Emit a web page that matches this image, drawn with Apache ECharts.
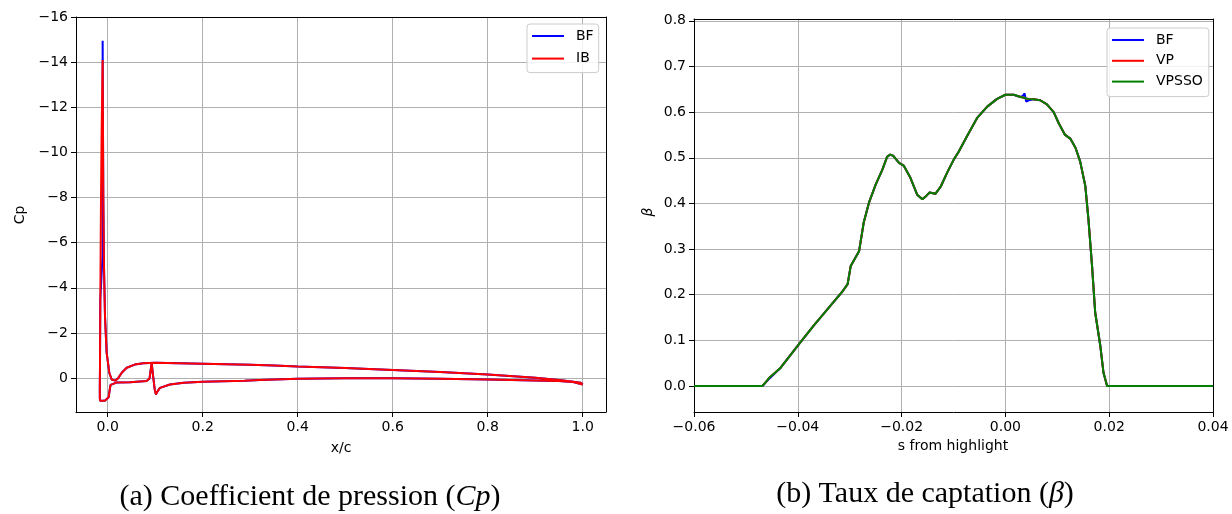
<!DOCTYPE html>
<html><head><meta charset="utf-8">
<script src="https://cdn.jsdelivr.net/npm/echarts@6/dist/echarts.min.js"></script>
<style>html,body{margin:0;padding:0;background:#fff}#c{width:1232px;height:514px}</style>
</head><body><div id="c"></div>
<script>
// ---------- (a) Pressure coefficient Cp vs x/c ----------
// upper surface: trailing edge -> leading edge (right branch of the suction peak)
const cpUpperX = [1.0, 0.995, 0.98, 0.95, 0.9, 0.8, 0.7, 0.6, 0.5, 0.4, 0.35, 0.3, 0.2, 0.15, 0.1, 0.075, 0.057, 0.04, 0.03, 0.022, 0.016, 0.012, 0.0084, 0.0034, -0.0022, -0.0057, -0.0078, -0.0092, -0.0099];
const cpUpperY = [0.28, 0.2, 0.16, 0.08, -0.02, -0.16, -0.27, -0.36, -0.45, -0.52, -0.56, -0.59, -0.64, -0.66, -0.68, -0.66, -0.6, -0.46, -0.25, 0.0, 0.11, 0.13, 0.06, -0.24, -1.13, -2.76, -4.98, -7.94, -11.0];
// suction peak of each solver
const ibPeakX = [-0.0106];
const ibPeakY = [-14.09];
const bfPeakX = [-0.0106, -0.0106];
const bfPeakY = [-14.95, -5.5];
// upper part of the left branch (IB only visible)
const cpLeTopX = [-0.0113, -0.0127, -0.0141];
const cpLeTopY = [-13.13, -10.9, -7.94];
// left branch down to stagnation, then lower surface to trailing edge
const cpLowerX = [-0.0155, -0.0162, -0.0166, -0.0165, -0.016, -0.0127, -0.006, -0.002, 0.002, 0.004, 0.006, 0.0084, 0.02, 0.047, 0.082, 0.088, 0.0926, 0.095, 0.099, 0.1017, 0.106, 0.11, 0.131, 0.16, 0.2, 0.288, 0.29, 0.292, 0.32, 0.4, 0.5, 0.6, 0.7, 0.8, 0.9, 0.95, 0.98, 1.0];
const cpLowerY = [-3.5, -0.53, 0.5, 0.9, 1.0, 1.02, 1.0, 0.95, 0.85, 0.55, 0.3, 0.22, 0.19, 0.18, 0.13, 0.02, -0.68, -0.2, 0.5, 0.72, 0.55, 0.43, 0.28, 0.2, 0.16, 0.12, 0.19, 0.12, 0.08, 0.03, 0.01, 0.01, 0.03, 0.06, 0.1, 0.13, 0.17, 0.28];
const cpXTicks = [0, 0.2, 0.4, 0.6, 0.8, 1.0];
const cpYTicks = [-16, -14, -12, -10, -8, -6, -4, -2, 0];

// ---------- (b) Collection efficiency beta vs s ----------
const sHl = [-0.06, -0.0468, -0.0455, -0.0433, -0.0397, -0.0369, -0.0337, -0.0314, -0.0304, -0.0298, -0.0282, -0.0273, -0.0263, -0.025, -0.0237, -0.0228, -0.0222, -0.0216, -0.0205, -0.0196, -0.0183, -0.017, -0.016, -0.0152, -0.0146, -0.0135, -0.0125, -0.0112, -0.0099, -0.009, -0.0074, -0.0054, -0.0035, -0.0016, 0.0, 0.0016, 0.0029, 0.0034, 0.0037, 0.0040, 0.0045, 0.0054, 0.0067, 0.008, 0.0093, 0.0103, 0.0115, 0.0125, 0.0135, 0.0144, 0.0154, 0.016, 0.0167, 0.0173, 0.0183, 0.0189, 0.0196, 0.04];
const betaBF = [0, 0, 0.016, 0.040, 0.093, 0.133, 0.176, 0.207, 0.223, 0.263, 0.295, 0.358, 0.401, 0.441, 0.474, 0.502, 0.507, 0.504, 0.489, 0.483, 0.456, 0.419, 0.409, 0.417, 0.424, 0.421, 0.436, 0.468, 0.497, 0.513, 0.547, 0.588, 0.612, 0.629, 0.638, 0.638, 0.633, 0.636, 0.641, 0.623, 0.626, 0.628, 0.626, 0.617, 0.600, 0.575, 0.550, 0.542, 0.522, 0.492, 0.438, 0.365, 0.262, 0.161, 0.087, 0.029, 0.0, 0];
const betaVP = [0, 0, 0.018, 0.040, 0.093, 0.133, 0.176, 0.207, 0.223, 0.263, 0.295, 0.358, 0.401, 0.441, 0.474, 0.502, 0.507, 0.504, 0.489, 0.483, 0.456, 0.419, 0.409, 0.417, 0.424, 0.421, 0.436, 0.468, 0.497, 0.513, 0.547, 0.588, 0.612, 0.629, 0.638, 0.638, 0.633, 0.632, 0.631, 0.630, 0.629, 0.628, 0.626, 0.617, 0.600, 0.575, 0.550, 0.542, 0.522, 0.492, 0.438, 0.365, 0.262, 0.161, 0.087, 0.029, 0.0, 0];
const betaVPSSO = [0, 0, 0.018, 0.040, 0.093, 0.133, 0.176, 0.207, 0.223, 0.263, 0.295, 0.358, 0.401, 0.441, 0.474, 0.502, 0.507, 0.504, 0.489, 0.483, 0.456, 0.419, 0.409, 0.417, 0.424, 0.421, 0.436, 0.468, 0.497, 0.513, 0.547, 0.588, 0.612, 0.629, 0.638, 0.638, 0.633, 0.632, 0.631, 0.630, 0.629, 0.628, 0.626, 0.617, 0.600, 0.575, 0.550, 0.542, 0.522, 0.492, 0.438, 0.365, 0.262, 0.161, 0.087, 0.029, 0.0, 0];
const betaXTicks = [-0.06, -0.04, -0.02, 0, 0.02, 0.04];
const betaYTicks = [0, 0.1, 0.2, 0.3, 0.4, 0.5, 0.6, 0.7, 0.8];

// ---------- build ----------
const zip = (xs, ys) => xs.map((x, i) => [x, ys[i]]);
const ibData = zip(cpUpperX.concat(ibPeakX, cpLeTopX, cpLowerX), cpUpperY.concat(ibPeakY, cpLeTopY, cpLowerY));
const bfData = zip(cpUpperX.concat(bfPeakX, cpLowerX), cpUpperY.concat(bfPeakY, cpLowerY));

const FONT = 'DejaVu Sans';
const fmt = d => v => (v < 0 ? '\u2212' : '') + (d === 0 ? String(Math.abs(v)) : Math.abs(v).toFixed(d));

function mainAxis(gridIndex, min, max, ticks, dec, extra) {
  return Object.assign({
    type: 'value', gridIndex, min, max,
    axisLine: { show: true, onZero: false, lineStyle: { color: '#000', width: 1 } },
    axisTick: { show: true, customValues: ticks, length: 5, lineStyle: { color: '#000', width: 1 } },
    axisLabel: { show: true, customValues: ticks, margin: 8, color: '#000', fontSize: 14, fontFamily: FONT, formatter: fmt(dec) },
    splitLine: { show: true, lineStyle: { color: '#b0b0b0', width: 1 } }
  }, extra || {});
}
function frameAxis(gridIndex, min, max, position, extra) {
  return Object.assign({
    type: 'value', gridIndex, min, max, position,
    axisLine: { show: true, onZero: false, lineStyle: { color: '#000', width: 1 } },
    axisTick: { show: false }, axisLabel: { show: false }, splitLine: { show: false }
  }, extra || {});
}
function legendCfg(names, left, top, gap, padding) {
  return {
    data: names, left, top, orient: 'vertical', icon: 'rect',
    itemWidth: 32, itemHeight: 2, itemGap: gap,
    textStyle: { fontSize: 14, lineHeight: 16, fontFamily: FONT, color: '#000', padding: [0, 0, 0, 7] },
    backgroundColor: 'rgba(255,255,255,0.85)', borderColor: '#cccccc', borderWidth: 1, borderRadius: 3,
    padding, selectedMode: false
  };
}
function lineSeries(name, data, color, xi, yi) {
  return { type: 'line', name, data, xAxisIndex: xi, yAxisIndex: yi, showSymbol: false, symbol: 'none',
    lineStyle: { color, width: 2 }, itemStyle: { color }, animation: false, clip: true };
}
const txt = (text, x, y, extra) => ({ type: 'text', x, y, style: Object.assign({ text, fill: '#000', font: '14px "DejaVu Sans"', align: 'center', verticalAlign: 'middle' }, extra || {}) });
const capRich = { n: { font: '30px "Liberation Serif"', fill: '#000' }, i: { font: 'italic 30px "Liberation Serif"', fill: '#000' } };

const option = {
  animation: false,
  backgroundColor: '#fff',
  grid: [
    { left: 76, top: 17, width: 530, height: 395, show: false },
    { left: 694, top: 19, width: 519, height: 393, show: false }
  ],
  xAxis: [
    mainAxis(0, -0.0667, 1.049, cpXTicks, 1),
    frameAxis(0, -0.0667, 1.049, 'top'),
    mainAxis(1, -0.06, 0.04, betaXTicks, 2),
    frameAxis(1, -0.06, 0.04, 'top')
  ],
  yAxis: [
    mainAxis(0, -16, 1.5, cpYTicks, 0, { inverse: true }),
    frameAxis(0, -16, 1.5, 'right', { inverse: true }),
    mainAxis(1, -0.057, 0.804, betaYTicks, 1),
    frameAxis(1, -0.057, 0.804, 'right')
  ],
  legend: [
    legendCfg(['BF', 'IB'], 527, 24, 6.6, [4, 5, 6, 5]),
    legendCfg(['BF', 'VP', 'VPSSO'], 1107, 28, 4.8, [4, 6, 7, 5])
  ],
  series: [
    lineSeries('BF', bfData, '#0000ff', 0, 0),
    lineSeries('IB', ibData, '#ff0000', 0, 0),
    lineSeries('BF', zip(sHl, betaBF), '#0000ff', 2, 2),
    lineSeries('VP', zip(sHl, betaVP), '#ff0000', 2, 2),
    lineSeries('VPSSO', zip(sHl, betaVPSSO), '#008000', 2, 2)
  ],
  graphic: [
    txt('x/c', 341, 448),
    txt('s from highlight', 953, 446),
    Object.assign(txt('Cp', 20, 215), { rotation: Math.PI / 2 }),
    Object.assign(txt('\u03b2', 648, 212, { font: 'italic 14px "DejaVu Sans"' }), { rotation: Math.PI / 2 }),
    { type: 'text', x: 310, y: 497, style: {
        text: '{n|(a) Coefficient de pression (}{i|Cp}{n|)}', align: 'center', verticalAlign: 'middle', rich: capRich } },
    { type: 'text', x: 925, y: 494, style: {
        text: '{n|(b) Taux de captation (}{i|\u03b2}{n|)}', align: 'center', verticalAlign: 'middle', rich: capRich } }
  ]
};
const chart = echarts.init(document.getElementById('c'), null, { renderer: 'canvas' });
chart.setOption(option);
</script>
</body></html>
